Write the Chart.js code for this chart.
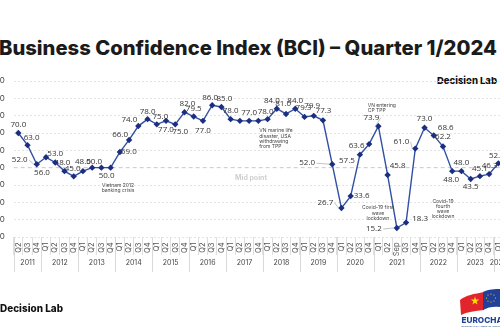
<!DOCTYPE html>
<html lang="en">
<head>
<meta charset="UTF-8" />
<title>Business Confidence Index (BCI)</title>
<script src="https://cdn.jsdelivr.net/npm/chart.js"></script>
<style>
  body {
    margin: 0;
    width: 500px;
    height: 333px;
    overflow: hidden;
    position: relative;
    background: #fff;
    font-family: Inter, "Open Sans", Arial, sans-serif;
  }
  .title {
    position: absolute;
    left: -1px;
    top: 37.5px;
    font-size: 20px;
    line-height: 20px;
    font-weight: 800;
    color: #1b1b1b;
    white-space: nowrap;
    transform-origin: left top;
  }
  .brand {
    position: absolute;
    font-weight: 800;
    color: #111;
    white-space: nowrap;
    transform-origin: left top;
  }
  #brandTop { left: 437px; top: 76px; font-size: 9.5px; line-height: 9.5px; }
  #brandBottom { left: 0; top: 303px; font-size: 10px; line-height: 10px; }
  .chart-wrap {
    position: absolute;
    left: -40px;
    top: 0;
    width: 600px;
    height: 333px;
  }
  #logo { position: absolute; left: 458px; top: 286px; }
</style>
</head>
<body>
<div class="title" id="title">Business Confidence Index (BCI) – Quarter 1/2024</div>
<div class="brand" id="brandTop">Decision Lab</div>
<div class="chart-wrap"><canvas id="bciChart" width="600" height="333"></canvas></div>
<div class="brand" id="brandBottom">Decision Lab</div>
<svg id="logo" width="42" height="47" viewBox="0 0 42 47">
  <path d="M2 14 C8 9, 16 8, 26 6 L26 24 C17 25, 9 26, 3 29 Z" fill="#e2252b"/>
  <path d="M25 6 C31 3, 37 3, 42 3 L42 21 C36 20, 30 21, 25 24 Z" fill="#22409a"/>
  <polygon fill="#ffde00" points="17,10.5 18,13.6 21.2,13.6 18.6,15.5 19.6,18.6 17,16.7 14.4,18.6 15.4,15.5 12.8,13.6 16,13.6"/>
  <g fill="#ffde00">
    <circle cx="33" cy="8" r="0.6"/><circle cx="36" cy="9" r="0.6"/><circle cx="37.5" cy="12" r="0.6"/>
    <circle cx="36" cy="15" r="0.6"/><circle cx="33" cy="16" r="0.6"/><circle cx="30" cy="15" r="0.6"/>
    <circle cx="28.5" cy="12" r="0.6"/><circle cx="30" cy="9" r="0.6"/>
  </g>
  <text x="3.5" y="36.5" font-family="Inter, Arial, sans-serif" font-size="8.2" font-weight="800" fill="#1d3f94">EUROCHAM</text>
  <text x="3.5" y="41" font-family="Arial, sans-serif" font-size="2.4" fill="#1d3f94">EUROPEAN CHAMBER OF COMMERCE</text>
</svg>

<script>
  // Quarter labels along the x axis (2021 has an extra September survey)
  const quarters = [
    "Q2", "Q3", "Q4",
    "Q1", "Q2", "Q3", "Q4",
    "Q1", "Q2", "Q3", "Q4",
    "Q1", "Q2", "Q3", "Q4",
    "Q1", "Q2", "Q3", "Q4",
    "Q1", "Q2", "Q3", "Q4",
    "Q1", "Q2", "Q3", "Q4",
    "Q1", "Q2", "Q3", "Q4",
    "Q1", "Q2", "Q3", "Q4",
    "Q1", "Q2", "Q3", "Q4",
    "Q1", "Q2", "Sep", "Q3", "Q4",
    "Q1", "Q2", "Q3", "Q4",
    "Q1", "Q2", "Q3", "Q4",
    "Q1",
  ];
  const years = ["2011", "2012", "2013", "2014", "2015", "2016", "2017",
    "2018", "2019", "2020", "2021", "2022", "2023", "2024"];
  const quartersPerYear = [3, 4, 4, 4, 4, 4, 4, 4, 4, 4, 5, 4, 4, 1];

  const bci = [
    70.0, 63.0, 52.0,
    56.0, 53.0, 48.0, 45.0,
    48.0, 50.0, 50.0, 50.0,
    59.0, 66.0, 74.0, 78.0,
    75.0, 77.0, 75.0, 82.0,
    79.5, 77.0, 86.0, 85.0,
    78.0, 77.0, 77.0, 77.0,
    78.0, 84.0, 81.0, 84.0,
    79.3, 79.9, 77.3, 52.0,
    26.7, 33.6, 57.5, 63.6,
    73.9, 45.8, 15.2, 18.3, 61.0,
    73.0, 68.6, 62.2, 48.0,
    48.0, 43.5, 45.1, 46.3,
    52.5,
  ];

  const yTicks = [10, 20, 30, 40, 50, 60, 70, 80, 90, 100];
  const midPoint = 50;

  // where each value label sits relative to its point: [dx, dy, leader line]
  const labelPos = [
    [0, -8], [4, -7], [-17, -4, 1],
    [-4, 15], [0, -8.5], [-2, -8], [-1, -8],
    [0, -9], [2, -6], null, [-4, 8],
    [9, 0], [-9, -5], [-9, -6.5], [0, -7],
    [3.5, -7.5], [0, 9], [5, 7.5], [3, -8],
    [0, -8], [0, 10], [-2, -8], [3, -8],
    [0, -8], null, [0, -8], null,
    [-2, -7], [-5, -8], [-3, -10], [0, -8],
    [-1, -9.5], [-1.5, -10], [0.5, -9.5], [-25, -1, 1],
    [-16, -5, 1], [11, 0], [-13, 6.5], [-12.5, 2],
    [-7, -8.5, 1], [10, -9], [-23, 1, 1], [14, -4], [-14, -6.5, 1],
    [0, -9], [12, -7.5], [0, -10], [-1, 9],
    [0, -8], [0, 8], [0, -7], [0.5, -8],
    [-1.5, -8],
  ];

  // event notes, anchored at [category index, index value]
  const notes = [
    { lines: ["Vietnam 2012", "banking crisis"], at: [10.8, 39.6], align: "center" },
    { lines: ["VN marine life", "disaster, USA", "withdrawing", "from TPP"], at: [26.1, 71.2], align: "left" },
    { lines: ["VN entering", "CP TPP"], at: [37.85, 85.8], align: "left" },
    { lines: ["Covid-19 first", "wave", "lockdown"], at: [38.95, 26.8], align: "center" },
    { lines: ["Covid-19", "fourth", "wave", "lockdown"], at: [46.0, 30.7], align: "center" },
  ];

  // fit branded text to its drawn width
  function fitWidth(id, width) {
    const el = document.getElementById(id);
    const w = el.getBoundingClientRect().width;
    el.style.transform = `scaleX(${width / w})`;
  }
  fitWidth("title", 498);
  fitWidth("brandTop", 60);
  fitWidth("brandBottom", 63);

  const midLine = {
    id: "midLine",
    beforeDatasetsDraw(chart) {
      const { ctx, chartArea, scales } = chart;
      const y = scales.y.getPixelForValue(midPoint);
      ctx.save();
      ctx.strokeStyle = "#c9c9c9";
      ctx.lineWidth = 1;
      ctx.setLineDash([4, 3]);
      ctx.beginPath();
      ctx.moveTo(chartArea.left, y);
      ctx.lineTo(chartArea.right, y);
      ctx.stroke();
      ctx.setLineDash([]);
      ctx.font = "bold 7px Inter, Arial, sans-serif";
      ctx.fillStyle = "#cfcfcf";
      ctx.textAlign = "center";
      ctx.textBaseline = "middle";
      ctx.fillText("Mid point", scales.x.getPixelForValue(25.2), scales.y.getPixelForValue(44.2));
      ctx.restore();
    },
  };

  const yearBands = {
    id: "yearBands",
    afterDraw(chart) {
      const { ctx, chartArea, scales } = chart;
      const x = scales.x;
      const half = (x.getPixelForValue(1) - x.getPixelForValue(0)) / 2;
      ctx.save();
      ctx.strokeStyle = "#d9d9d9";
      ctx.lineWidth = 1;
      ctx.font = "7px Inter, Arial, sans-serif";
      ctx.fillStyle = "#444";
      ctx.textAlign = "center";
      ctx.textBaseline = "middle";
      let start = 0;
      years.forEach((yr, k) => {
        const end = start + quartersPerYear[k] - 1;
        const left = x.getPixelForValue(start) - half;
        const right = x.getPixelForValue(end) + half;
        ctx.beginPath();
        ctx.moveTo(Math.round(left) + 0.5, chartArea.bottom);
        ctx.lineTo(Math.round(left) + 0.5, chartArea.bottom + 35);
        ctx.stroke();
        ctx.fillText(yr, (left + right) / 2, chartArea.bottom + 26);
        start = end + 1;
      });
      ctx.restore();
    },
  };

  const valueLabels = {
    id: "valueLabels",
    afterDatasetsDraw(chart) {
      const { ctx, scales } = chart;
      const meta = chart.getDatasetMeta(0);
      ctx.save();
      ctx.font = "8px 'Open Sans', Arial, sans-serif";
      ctx.textAlign = "center";
      ctx.textBaseline = "middle";
      meta.data.forEach((pt, i) => {
        const pos = labelPos[i];
        if (!pos) return;
        const [dx, dy, lead] = pos;
        const tx = pt.x + dx;
        const ty = pt.y + dy;
        const text = bci[i].toFixed(1);
        if (lead) {
          const w = ctx.measureText(text).width / 2 + 1.5;
          const sx = dx < 0 ? tx + w : tx - w;
          ctx.strokeStyle = "#9a9a9a";
          ctx.lineWidth = 0.6;
          ctx.beginPath();
          ctx.moveTo(sx, ty);
          ctx.lineTo(pt.x + (dx < 0 ? -3 : 3), pt.y);
          ctx.stroke();
        }
        ctx.fillStyle = "#333";
        ctx.fillText(text, tx, ty);
      });

      ctx.font = "5px Inter, Arial, sans-serif";
      ctx.fillStyle = "#444";
      notes.forEach((n) => {
        const nx = scales.x.getPixelForValue(n.at[0]);
        const ny = scales.y.getPixelForValue(n.at[1]);
        ctx.textAlign = n.align;
        n.lines.forEach((line, j) => ctx.fillText(line, nx, ny + j * 5.2));
      });
      ctx.restore();
    },
  };

  new Chart(document.getElementById("bciChart"), {
    type: "line",
    data: {
      labels: quarters,
      datasets: [
        {
          label: "BCI",
          data: bci,
          borderColor: "#3150a3",
          borderWidth: 1.4,
          pointStyle: "rectRot",
          pointRadius: 3.2,
          pointBackgroundColor: "#1b2e80",
          pointBorderColor: "#1b2e80",
          pointBorderWidth: 0,
          tension: 0,
          clip: false,
        },
      ],
    },
    options: {
      responsive: false,
      animation: false,
      layout: { padding: { left: 0, right: 57, top: 81, bottom: 0 } },
      plugins: {
        legend: { display: false },
        tooltip: { enabled: false },
      },
      scales: {
        x: {
          offset: true,
          grid: {
            offset: true,
            drawOnChartArea: false,
            drawTicks: true,
            tickLength: 18,
            tickColor: "#dedede",
          },
          border: { display: false },
          ticks: {
            autoSkip: false,
            minRotation: 90,
            maxRotation: 90,
            padding: -12.5,
            color: "#555",
            font: { size: 7.5, family: "Inter, Arial, sans-serif" },
          },
          afterFit(scale) {
            scale.height = 96;
          },
        },
        y: {
          min: 10,
          max: 100,
          afterBuildTicks(scale) {
            scale.ticks = yTicks.map((v) => ({ value: v }));
          },
          grid: {
            drawTicks: false,
            color: (c) => (c.tick && c.tick.value === midPoint ? "rgba(0,0,0,0)" : "#e4e4e4"),
          },
          border: { display: false, dash: [2, 2] },
          ticks: {
            padding: 9,
            color: "#444",
            font: { size: 8, family: "Inter, Arial, sans-serif" },
            callback: (v) => v.toFixed(1),
          },
          afterFit(scale) {
            scale.width = 53.7;
          },
        },
      },
    },
    plugins: [midLine, yearBands, valueLabels],
  });
</script>
</body>
</html>
